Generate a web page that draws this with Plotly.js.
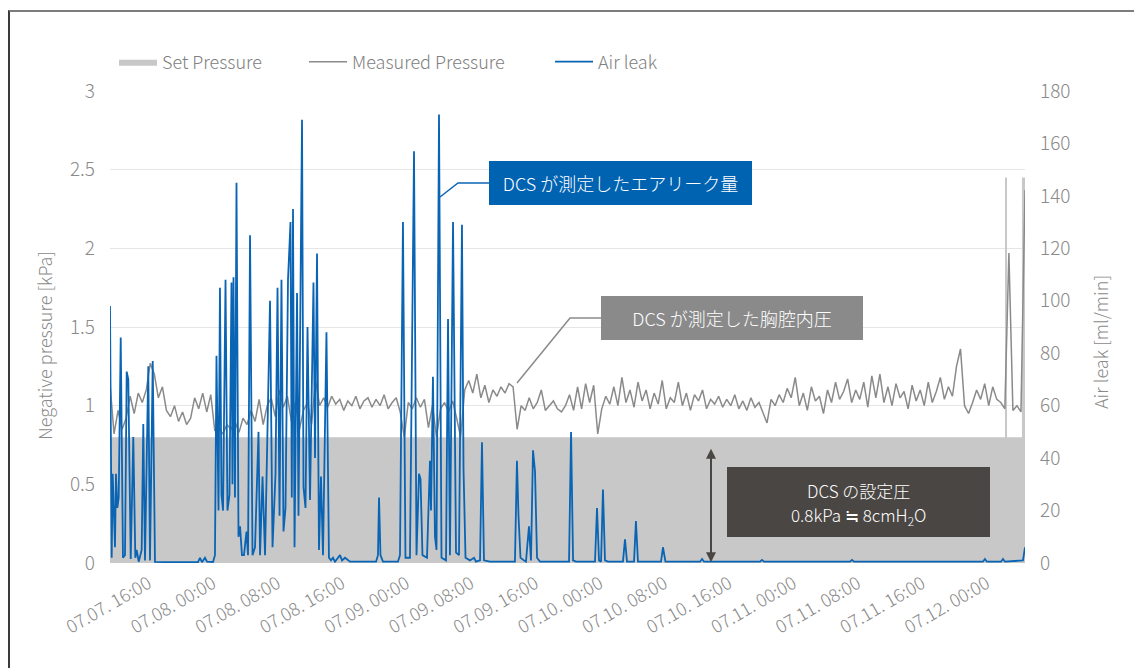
<!DOCTYPE html>
<html>
<head>
<meta charset="utf-8">
<script src="https://cdn.plot.ly/plotly-3.0.1.min.js"></script>
<style>
  html, body { margin: 0; padding: 0; background: #fff; }
  #wrap { position: relative; width: 1134px; height: 668px; overflow: hidden; }
  #chart { position: absolute; left: 0; top: 0; width: 1134px; height: 668px; }
  #frame { position: absolute; left: 8px; top: 10px; right: 0; bottom: 0;
           border-top: 2px solid #7c7c7c; border-left: 2px solid #3a3a3a; pointer-events: none; }
</style>
</head>
<body>
<div id="wrap">
  <div id="chart"></div>
  <div id="frame"></div>
</div>
<script>
// Time axis: hours counted from 07.07 00:00
const tickHours = [16, 24, 32, 40, 48, 56, 64, 72, 80, 88, 96, 104, 112, 120];
const tickLabels = ["07.07. 16:00", "07.08. 00:00", "07.08. 08:00", "07.08. 16:00", "07.09. 00:00",
  "07.09. 08:00", "07.09. 16:00", "07.10. 00:00", "07.10. 08:00", "07.10. 16:00",
  "07.11. 00:00", "07.11. 08:00", "07.11. 16:00", "07.12. 00:00"];

// Set pressure [kPa] (step changes)
const setTime = [11.25, 122.27, 122.52, 124.37, 124.75];
const setValue = [0.8, 2.45, 0.8, 2.45, 2.45];

// Measured (intrathoracic) pressure [kPa], one reading every 30 min from 11.25 h
const measuredStart = 11.25;
const measuredStep = 0.5;
const measuredPressure = [
  1.14, 0.82, 0.97, 0.85, 0.92, 1.06, 0.95, 1.08, 1.02, 1.10,
  1.27, 1.20, 1.05, 1.12, 0.97, 0.93, 1.00, 0.90, 0.96, 0.88,
  0.92, 1.05, 0.98, 1.08, 0.96, 1.07, 0.84, 0.86, 0.82, 0.88,
  0.85, 0.90, 0.83, 0.92, 0.88, 0.97, 0.90, 1.04, 0.88, 1.00,
  1.05, 0.93, 1.10, 0.99, 1.06, 0.90, 1.02, 0.85, 0.97, 1.02,
  0.88, 1.16, 1.00, 1.05, 0.99, 1.06, 1.01, 1.04, 0.97, 1.03,
  1.00, 1.06, 0.98, 1.03, 1.05, 0.99, 1.04, 1.00, 1.07, 0.98,
  1.02, 1.05, 0.96, 0.80, 1.02, 0.98, 1.05, 0.99, 1.04, 0.86,
  1.00, 0.80, 0.98, 1.02, 0.96, 1.03, 0.92, 0.80, 1.10, 1.16,
  1.08, 1.20, 1.05, 1.13, 1.02, 1.10, 1.06, 1.12, 1.08, 1.14,
  1.12, 0.85, 1.00, 0.97, 1.05, 0.98, 1.02, 1.10, 0.97, 1.00,
  1.03, 0.98, 0.96, 1.00, 1.07, 0.97, 1.12, 0.98, 1.14, 1.02,
  1.13, 0.82, 0.98, 1.06, 1.01, 1.12, 1.00, 1.18, 1.02, 1.10,
  0.99, 1.15, 1.03, 1.10, 0.98, 1.08, 1.01, 1.16, 0.98, 1.05,
  1.02, 1.15, 1.00, 1.08, 0.97, 1.07, 1.03, 1.10, 0.98, 1.04,
  1.01, 1.06, 0.99, 1.04, 1.00, 1.07, 0.98, 1.03, 0.97, 1.05,
  0.99, 1.02, 0.96, 0.89, 1.04, 1.00, 1.07, 1.02, 1.11, 1.05,
  1.18, 1.00, 1.08, 0.97, 1.12, 1.03, 1.06, 0.95, 1.10, 1.02,
  1.15, 1.04, 1.09, 1.17, 1.02, 1.10, 1.04, 1.15, 0.99, 1.19,
  1.05, 1.20, 1.02, 1.12, 1.00, 1.14, 1.05, 1.09, 0.98, 1.13,
  1.03, 1.10, 1.00, 1.15, 1.02, 1.09, 1.18, 1.04, 1.12, 1.06,
  1.25, 1.36, 1.00, 0.95, 1.02, 1.10, 1.04, 1.14, 1.00, 1.12,
  1.04, 1.02, 0.98, 1.97, 0.97, 1.00, 0.96, 2.37
];

// Air leak [ml/min]
const leakTime = [
  11.25, 11.46, 11.58, 11.87, 11.99, 12.16, 12.33, 12.58, 12.86, 13.11,
  13.32, 13.52, 13.82, 14.14, 14.39, 14.56, 14.81, 15.18, 15.38, 15.59,
  16.00, 16.21, 16.55, 16.83, 18.69, 20.55, 22.17, 22.41, 22.66, 23.03,
  23.28, 24.03,
  24.27, 24.46, 24.71, 24.89, 25.08, 25.27, 25.58, 25.82, 26.07, 26.32,
  26.44, 26.57, 26.75, 26.94, 27.19, 27.38, 27.62, 27.87, 28.18, 28.37,
  28.62, 28.93, 29.24, 29.67, 29.86, 30.17, 30.48, 31.10, 31.41, 31.78,
  32.03, 32.28, 32.52, 32.77, 33.02, 33.33, 33.64, 33.80, 33.95, 34.14,
  34.45, 34.63, 35.07, 35.25, 35.50, 35.75, 36.06, 36.49, 36.68, 36.93,
  37.17, 37.42, 37.67, 38.10, 38.41, 38.66, 38.91, 39.16, 39.78, 40.03,
  40.40, 41.02,
  44.25, 44.49, 44.62, 44.80, 45.11, 46.97, 47.22, 47.59, 47.90, 48.46,
  48.96, 49.27, 49.58, 49.77, 50.01, 50.57, 50.94, 51.07, 51.31, 51.56,
  51.75, 52.06, 52.37, 52.93, 53.18, 53.42, 53.80, 54.17, 54.54, 54.91,
  55.10, 55.35, 55.90, 56.40, 56.65, 57.15, 57.39, 57.64, 58.38,
  61.48, 61.73, 61.92, 62.17, 62.60, 62.85, 63.22, 63.47, 63.72, 63.97,
  64.22, 64.59, 68.19, 68.44, 68.69, 69.05, 71.41, 71.66, 71.91, 72.16,
  72.40, 72.65, 73.02, 74.88, 75.13, 75.38, 76.25, 76.49, 76.74, 79.60,
  79.84, 80.15, 84.44, 84.69, 84.94, 91.88, 92.13, 92.38, 103.04, 103.29,
  103.54, 119.53, 119.78, 120.03, 121.77, 122.02, 122.27, 124.50, 124.75
];
const leakValue = [
  98, 2, 34, 6, 34, 21, 25, 86, 2, 3,
  73, 70, 1.5, 48, 2, 5, 0.5, 5, 53, 1,
  75, 1, 77, 0.4, 0.3, 0.3, 0.3, 2, 0.3, 2,
  0.5, 0.4,
  3, 79, 20, 105, 26, 20, 108, 20, 26, 107,
  30, 109, 25, 145, 10, 14, 3, 3, 12, 3,
  125, 3, 6, 50, 3, 33, 3, 100, 6, 34,
  105, 18, 108, 12, 21, 108, 130, 25, 135, 6,
  103, 18, 169, 29, 21, 90, 24, 107, 40, 118,
  5, 33, 3, 88, 2, 1, 2, 0.5, 3, 1,
  2, 0.5,
  0.5, 3, 25, 3, 0.5, 0.5, 3, 130, 2, 2,
  157, 3, 34, 32, 3, 2, 39, 20, 71, 10,
  5, 171, 2, 1, 93, 3, 130, 4, 3, 129,
  36, 2, 1, 2, 0.5, 1, 46, 1, 0.5,
  0.5, 39, 18, 2, 1, 0.5, 14, 1, 43, 35,
  2, 0.5, 0.5, 50, 1, 0.5, 0.5, 21, 1, 0.5,
  28, 1, 0.5, 0.5, 9, 0.5, 0.5, 16, 0.5, 0.5,
  6, 0.5, 0.5, 1.5, 0.5, 0.5, 1.2, 0.5, 0.5, 1.2,
  0.5, 0.5, 1.5, 0.5, 0.5, 1.5, 0.5, 1, 6
];

const FONT = '"Noto Sans CJK JP", "Noto Sans", sans-serif';
const GREY_TEXT = '#8a8a8a';
const BLUE = '#0a64b4';
const DARK = '#4a4643';

const traces = [
  {
    name: 'Set Pressure', x: setTime, y: setValue, type: 'scatter', mode: 'lines',
    line: { shape: 'hv', width: 0, color: '#c8c8c8' },
    fill: 'tozeroy', fillcolor: '#c8c8c8', legend: 'legend', hoverinfo: 'skip'
  },
  {
    name: 'Measured Pressure', y: measuredPressure, x0: measuredStart, dx: measuredStep,
    type: 'scatter', mode: 'lines', line: { color: '#8a8a8a', width: 1.5 }, legend: 'legend2'
  },
  {
    name: 'Air leak', x: leakTime, y: leakValue, yaxis: 'y2', type: 'scatter', mode: 'lines',
    line: { color: BLUE, width: 1.8 }, legend: 'legend3'
  }
];

// helpers for paper coordinates of the plot area (110..1025 px wide, 91..563 px tall)
const px = v => (v - 110) / 915;
const py = v => (563 - v) / 472;

function legendAt(xPix) {
  return {
    x: xPix / 1134, y: 1 - 62 / 668, xref: 'container', yref: 'container',
    xanchor: 'left', yanchor: 'middle', orientation: 'h', bgcolor: 'rgba(0,0,0,0)',
    itemwidth: 38, font: { family: FONT, size: 18, color: '#808080', weight: 300 }
  };
}

const layout = {
  width: 1134, height: 668,
  margin: { l: 110, r: 109, t: 91, b: 105 },
  paper_bgcolor: '#ffffff', plot_bgcolor: '#ffffff',
  font: { family: FONT, color: GREY_TEXT, weight: 300 },
  showlegend: true,
  legend: legendAt(114),
  legend2: legendAt(304),
  legend3: legendAt(550),
  xaxis: {
    range: [11.25, 124.75], showgrid: false, zeroline: false, showline: false,
    tickmode: 'array', tickvals: tickHours, ticktext: tickLabels, tickangle: -30,
    ticks: '', ticklabelstandoff: 6,
    tickfont: { family: FONT, size: 18, color: GREY_TEXT, weight: 300 }
  },
  yaxis: {
    range: [0, 3], tick0: 0, dtick: 0.5, showgrid: true, gridcolor: '#e6e6e6', gridwidth: 1,
    zeroline: false, showline: false, ticks: '', ticklabelstandoff: 14,
    tickfont: { family: FONT, size: 19, color: GREY_TEXT, weight: 300 }
  },
  yaxis2: {
    range: [0, 180], tick0: 0, dtick: 20, overlaying: 'y', side: 'right',
    showgrid: false, zeroline: false, showline: false, ticks: '', ticklabelstandoff: 14,
    tickfont: { family: FONT, size: 19, color: GREY_TEXT, weight: 300 }
  },
  shapes: [
    // callout leader lines
    {
      type: 'path', xref: 'paper', yref: 'paper',
      path: `M${px(489)},${py(183)} L${px(458)},${py(183)} L${px(440)},${py(197)}`,
      line: { color: BLUE, width: 1.5 }
    },
    {
      type: 'path', xref: 'paper', yref: 'paper',
      path: `M${px(601)},${py(318)} L${px(570)},${py(318)} L${px(517)},${py(383)}`,
      line: { color: '#8a8a8a', width: 1.5 }
    },
    // panel behind the set-pressure note
    {
      type: 'rect', xref: 'paper', yref: 'paper', layer: 'above',
      x0: px(727), x1: px(990), y0: py(537), y1: py(467),
      fillcolor: DARK, line: { width: 0 }
    }
  ],
  annotations: [
    {
      text: 'Negative pressure [kPa]', xref: 'paper', yref: 'paper',
      x: px(44), y: py(346), xanchor: 'center', yanchor: 'middle', textangle: -90, showarrow: false,
      font: { family: FONT, size: 18, color: GREY_TEXT, weight: 300 }
    },
    {
      text: 'Air leak [ml/min]', xref: 'paper', yref: 'paper',
      x: px(1100), y: py(342), xanchor: 'center', yanchor: 'middle', textangle: -90, showarrow: false,
      font: { family: FONT, size: 18, color: GREY_TEXT, weight: 300 }
    },
    {
      text: 'DCS が測定したエアリーク量', xref: 'paper', yref: 'paper',
      x: px(620.5), y: py(183), xanchor: 'center', yanchor: 'middle',
      width: 263, height: 44, showarrow: false,
      bgcolor: '#0063b1', borderpad: 0, borderwidth: 0,
      font: { family: FONT, size: 18, color: '#ffffff', weight: 300 }
    },
    {
      text: 'DCS が測定した胸腔内圧', xref: 'paper', yref: 'paper',
      x: px(732), y: py(318), xanchor: 'center', yanchor: 'middle',
      width: 262, height: 44, showarrow: false,
      bgcolor: '#8a8a8a', borderpad: 0, borderwidth: 0,
      font: { family: FONT, size: 18, color: '#ffffff', weight: 300 }
    },
    {
      text: 'DCS の設定圧', xref: 'paper', yref: 'paper',
      x: px(858.5), y: py(490), xanchor: 'center', yanchor: 'middle', showarrow: false,
      font: { family: FONT, size: 17, color: '#ffffff', weight: 300 }
    },
    {
      text: '0.8kPa ≒ 8cmH<sub>2</sub>O', xref: 'paper', yref: 'paper',
      x: px(858.5), y: py(515), xanchor: 'center', yanchor: 'middle', showarrow: false,
      font: { family: FONT, size: 17, color: '#ffffff', weight: 300 }
    },
    {
      text: ' ', xref: 'x', yref: 'y', x: 85.8, y: 0.005, axref: 'x', ayref: 'y', ax: 85.8, ay: 0.79,
      showarrow: true, arrowside: 'end+start', arrowhead: 2, arrowsize: 1, arrowwidth: 2,
      arrowcolor: DARK
    }
  ]
};

Plotly.newPlot('chart', traces, layout, { staticPlot: true, displayModeBar: false });
</script>
</body>
</html>
